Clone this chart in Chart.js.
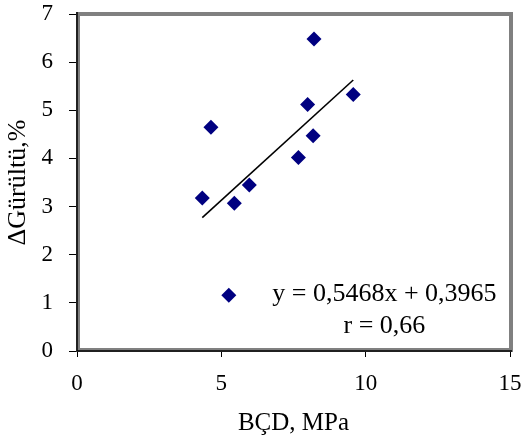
<!DOCTYPE html>
<html>
<head>
<meta charset="utf-8">
<script src="https://cdn.jsdelivr.net/npm/chart.js@4/dist/chart.umd.min.js"></script>
<style>
  html, body { margin: 0; padding: 0; background: #ffffff; }
  #wrap { width: 523px; height: 441px; position: relative; }
</style>
</head>
<body>
<div id="wrap"><canvas id="c" width="523" height="441"></canvas></div>
<script>
// BÇD (MPa) vs ΔGürültü (%) measurements
const bcd     = [4.34, 4.64, 5.45, 5.97, 5.26, 7.67, 7.99, 8.18, 8.21, 9.57];
const gurultu = [3.18, 4.65, 3.07, 3.45, 1.16, 4.02, 5.12, 4.47, 6.48, 5.33];

// Linear fit reported on the chart
const slope = 0.5468;
const intercept = 0.3965;
const rValue = "0,66";
const equationText = "y = 0,5468x + 0,3965";
const rText = "r = " + rValue;

const xTicks = [0, 5, 10, 15];
const yTicks = [0, 1, 2, 3, 4, 5, 6, 7];

const points = bcd.map((x, i) => ({ x: x, y: gurultu[i] }));
const xMin = Math.min(...bcd), xMax = Math.max(...bcd);
const fitLine = [
  { x: xMin, y: slope * xMin + intercept },
  { x: xMax, y: slope * xMax + intercept }
];

const FONT = "'Liberation Serif', 'Times New Roman', serif";

// Plot frame: grey border with black axis lines on left and bottom
const framePlugin = {
  id: 'frame',
  beforeDatasetsDraw(chart) {
    const { ctx, chartArea: a } = chart;
    ctx.save();
    ctx.strokeStyle = '#808080';
    ctx.lineWidth = 4;
    ctx.strokeRect(a.left + 1, a.top, a.right - a.left, a.bottom - a.top - 1);
    ctx.strokeStyle = '#000000';
    ctx.lineWidth = 1.5;
    ctx.beginPath();
    ctx.moveTo(a.left, a.top - 2);
    ctx.lineTo(a.left, a.bottom);
    ctx.lineTo(a.right + 2, a.bottom);
    ctx.stroke();
    ctx.restore();
  },
  afterDraw(chart) {
    const { ctx, scales } = chart;
    ctx.save();
    ctx.fillStyle = '#000000';
    ctx.font = "26px " + FONT;
    ctx.textAlign = 'center';
    ctx.textBaseline = 'middle';
    const cx = scales.x.getPixelForValue(10.65);
    ctx.fillText(equationText, cx, scales.y.getPixelForValue(1.18));
    ctx.fillText(rText, cx, scales.y.getPixelForValue(0.52));
    ctx.restore();
  }
};

new Chart(document.getElementById('c'), {
  type: 'scatter',
  data: {
    datasets: [
      {
        label: 'ΔGürültü',
        data: points,
        pointStyle: 'rectRot',
        pointRadius: 7.5,
        pointHoverRadius: 7.5,
        backgroundColor: '#000080',
        borderColor: '#000080',
        borderWidth: 0,
        order: 1
      },
      {
        label: 'fit',
        type: 'line',
        data: fitLine,
        borderColor: '#000000',
        borderWidth: 1.6,
        pointRadius: 0,
        fill: false,
        order: 2
      }
    ]
  },
  options: {
    responsive: false,
    animation: false,
    events: [],
    layout: { padding: { top: 14, right: 13, left: 0, bottom: 0 } },
    plugins: { legend: { display: false }, tooltip: { enabled: false } },
    scales: {
      x: {
        type: 'linear',
        min: 0, max: 15,
        afterBuildTicks: s => { s.ticks = xTicks.map(v => ({ value: v })); },
        afterFit: s => { s.height = 90; s.paddingLeft = 0; s.paddingRight = 0; },
        ticks: { color: '#000', font: { family: FONT, size: 23 }, padding: 13 },
        grid: { display: true, drawOnChartArea: false, drawTicks: true, tickLength: 6, color: '#000', lineWidth: 1 },
        border: { display: false },
        title: { display: true, text: 'BÇD, MPa', color: '#000', font: { family: FONT, size: 25 }, padding: { top: 4, bottom: 3 } }
      },
      y: {
        type: 'linear',
        min: 0, max: 7,
        afterBuildTicks: s => { s.ticks = yTicks.map(v => ({ value: v })); },
        afterFit: s => { s.width = 77; s.paddingTop = 0; s.paddingBottom = 0; },
        ticks: { color: '#000', font: { family: FONT, size: 23 }, padding: 16 },
        grid: { display: true, drawOnChartArea: false, drawTicks: true, tickLength: 8, color: '#000', lineWidth: 1 },
        border: { display: false },
        title: { display: true, text: 'ΔGürültü,%', color: '#000', font: { family: FONT, size: 26 }, padding: { top: 3, bottom: 0 } }
      }
    }
  },
  plugins: [framePlugin]
});
</script>
</body>
</html>
